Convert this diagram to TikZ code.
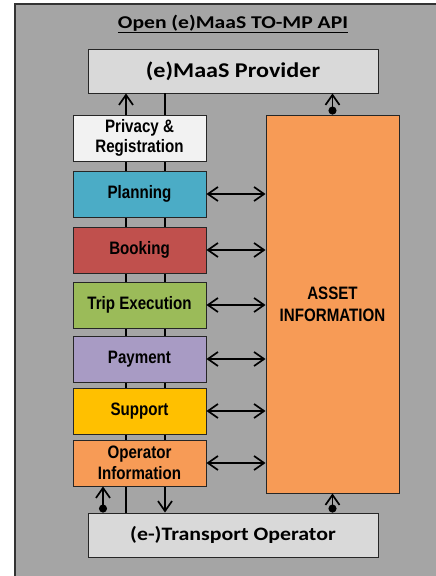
\documentclass[tikz,border=0pt]{standalone}
\usepackage{fontspec}
\usetikzlibrary{arrows.meta}
\newfontfamily\calfont{Carlito}[FakeStretch=1.15]
\newfontfamily\calfontT{Carlito}[FakeStretch=1.2]
\newfontfamily\arfont{Liberation Sans}[FakeStretch=0.84]
\definecolor{bggray}{HTML}{A5A5A5}
\definecolor{boxgray}{HTML}{D9D9D9}
\definecolor{privc}{HTML}{F2F2F2}
\definecolor{planc}{HTML}{4BACC6}
\definecolor{bookc}{HTML}{C0504D}
\definecolor{tripc}{HTML}{9BBB59}
\definecolor{payc}{HTML}{A89BC4}
\definecolor{suppc}{HTML}{FFC000}
\definecolor{orgc}{HTML}{F79B56}
\tikzset{
  x=1pt, y=-1pt,
  bigbox/.style={draw=black!85, line width=0.9pt, fill=boxgray, minimum width=290pt, minimum height=44pt, inner sep=0pt, font=\calfont\bfseries\fontsize{19}{21}\selectfont},
  fbox/.style={draw=black!85, line width=0.9pt, minimum width=133pt, minimum height=46pt, inner sep=0pt, align=center, font=\arfont\bfseries\fontsize{18}{22}\selectfont},
  conn/.style={line width=1.9pt, black},
  barb/.tip={Straight Barb[length=10pt, width=14pt, line width=1.7pt]},
  arr/.style={conn, -barb},
  darr/.style={conn, barb-barb},
  dotarr/.style={conn, {Circle[length=8pt]}-barb},
}
\begin{document}
\begin{tikzpicture}
\useasboundingbox (0,0) rectangle (436,576);
\fill[bggray] (15,4) rectangle (440,580);
\draw[black!80, line width=1.5pt] (15,580) -- (15,4) -- (440,4);
\node[font=\calfontT\bfseries\fontsize{18}{20}\selectfont] (title) at (233,24) {\underline{Open (e)MaaS TO-MP API}};
\node[bigbox, font=\calfont\bfseries\fontsize{21}{23}\selectfont] (prov) at (233,71) {(e)MaaS Provider};
\node[bigbox] (trans) at (233,535) {(e-)Transport Operator};
\coordinate (xL) at (126,0);
\coordinate (xR) at (165,0);
\coordinate (xO) at (103,0);
% vertical lines behind the boxes
\draw[arr] (trans.north -| xL) -- (prov.south -| xL);
\draw[arr] (prov.south -| xR) -- (trans.north -| xR);
\node[fbox, fill=privc] (priv) at (139.5,138) {Privacy \&\\[-2pt]Registration};
\node[fbox, fill=planc] (plan) at (139.5,194) {Planning};
\node[fbox, fill=bookc] (book) at (139.5,250) {Booking};
\node[fbox, fill=tripc] (trip) at (139.5,305) {Trip Execution};
\node[fbox, fill=payc] (pay) at (139.5,359) {Payment};
\node[fbox, fill=suppc] (supp) at (139.5,411) {Support};
\node[fbox, fill=orgc] (opinf) at (139.5,463) {Operator\\[-1pt]Information};
\node[fbox, fill=orgc, minimum height=378pt] (asset) at (332.5,304) {ASSET\\[0pt]INFORMATION};
\draw[dotarr] (trans.north -| xO) -- (opinf.south -| xO);
\draw[dotarr] (asset.north) -- (prov.south -| asset.north);
\draw[dotarr] (trans.north -| asset.south) -- (asset.south);
\foreach \n in {plan,book,trip,pay,supp,opinf}
  \draw[darr] (\n.east) -- (\n.east -| asset.west);
\end{tikzpicture}
\end{document}
